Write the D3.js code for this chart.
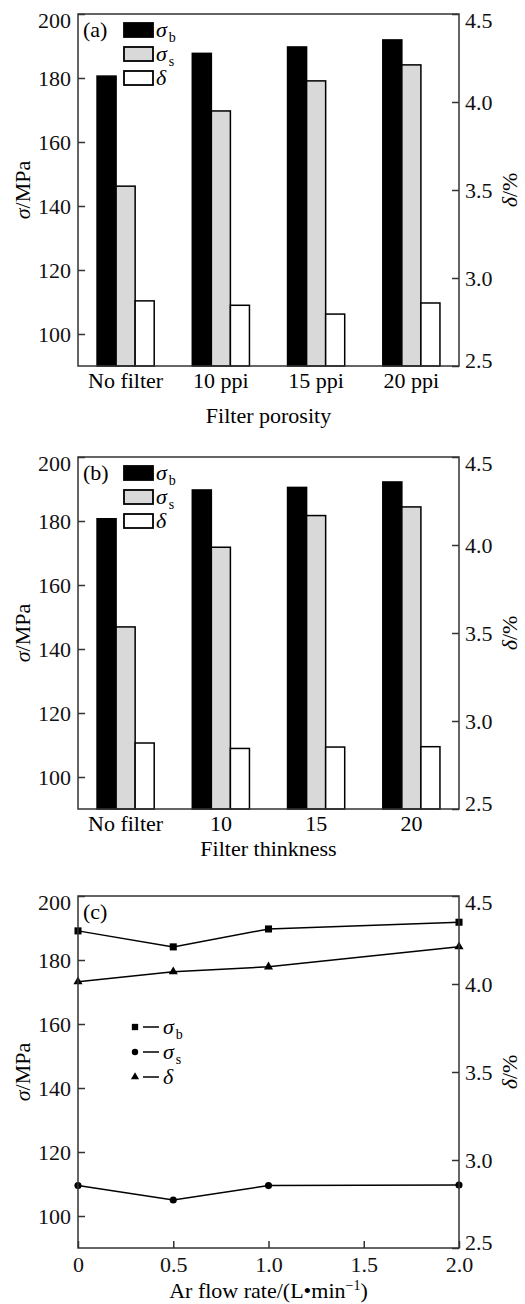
<!DOCTYPE html>
<html>
<head>
<meta charset="utf-8">
<script src="https://cdn.jsdelivr.net/npm/d3@7"></script>
<style>
  body { margin: 0; background: #fff; }
  svg text { font-family: "Liberation Serif", "DejaVu Serif", serif; }
</style>
</head>
<body>
<svg id="svg" width="525" height="1304"></svg>
<script>
// categories and values
const porosity = ["No filter", "10 ppi", "15 ppi", "20 ppi"]
const thickness = ["No filter", "10", "15", "20"]
const series = ["sb", "ss", "d"]

const sigmaB_a = [180.6, 187.7, 189.7, 191.9]
const sigmaS_a = [146.2, 169.7, 179.1, 184.1]
const delta_a = [2.870, 2.845, 2.795, 2.858]

const sigmaB_b = [180.7, 189.7, 190.5, 192.2]
const sigmaS_b = [146.9, 171.8, 181.7, 184.4]
const delta_b = [2.875, 2.844, 2.852, 2.854]

const flowRate = [0, 0.5, 1.0, 2.0]
const sigmaB_c = [189.1, 184.1, 189.7, 191.8]
const sigmaS_c = [109.5, 105.0, 109.5, 109.7]
const delta_c = [4.013, 4.070, 4.098, 4.212]

const leftTicks = [100, 120, 140, 160, 180, 200]
const rightTicks = [2.5, 3.0, 3.5, 4.0, 4.5]
const flowTicks = [0, 0.5, 1.0, 1.5, 2.0]

const x0 = 78, x1 = 459, h = 352
const fs = 22

const svg = d3.select("#svg")

function addLabel(sel, sym, sub) {
    sel.append("tspan").attr("font-style", "italic").text(sym)
    if (sub) sel.append("tspan").attr("font-size", 14).attr("dy", 5).attr("dx", 2).text(sub)
}

function styleAxis(a) {
    a.select(".domain").remove()
    a.attr("font-family", null).attr("font-size", fs)
    a.selectAll("line").attr("stroke", "#333").attr("stroke-width", 1.5)
    a.selectAll("text").attr("fill", "#111")
}

function panel(top, name, xTitle, titleOff) {
    const g = svg.append("g").attr("transform", `translate(0,${top})`)
    const yL = d3.scaleLinear().domain([90, 200]).range([h, 0])
    const yR = d3.scaleLinear().domain([2.5, 4.5]).range([h, 0])

    const ax = g.append("g").attr("transform", `translate(${x0},0)`)
        .call(d3.axisLeft(yL).tickValues(leftTicks).tickSize(-7).tickPadding(7).tickFormat(d3.format("d")))
    const ax2 = g.append("g").attr("transform", `translate(${x1},0)`)
        .call(d3.axisRight(yR).tickValues(rightTicks).tickSize(-7).tickPadding(6).tickFormat(d3.format(".1f")))
    styleAxis(ax)
    styleAxis(ax2)
    // end labels pulled inside the frame, as in the original
    ax.selectAll(".tick").filter(d => d === 200).select("text").attr("y", 6)
    ax2.selectAll(".tick").filter(d => d === 4.5).select("text").attr("y", 6)
    ax2.selectAll(".tick").filter(d => d === 2.5).select("text").attr("y", -6)

    const lt = g.append("text").attr("transform", `translate(30,${h / 2}) rotate(-90)`)
        .attr("text-anchor", "middle").attr("font-size", fs)
    lt.append("tspan").attr("font-style", "italic").text("σ")
    lt.append("tspan").text("/MPa")
    const rt = g.append("text").attr("transform", `translate(517,${h / 2}) rotate(-90)`)
        .attr("text-anchor", "middle").attr("font-size", fs)
    rt.append("tspan").attr("font-style", "italic").text("δ")
    rt.append("tspan").text("/%")

    g.append("text").attr("x", 83).attr("y", 23).attr("font-size", fs).text(name)

    const xt = g.append("text").attr("x", (x0 + x1) / 2).attr("y", h + titleOff)
        .attr("text-anchor", "middle").attr("font-size", fs)
    if (typeof xTitle === "string") xt.text(xTitle)
    else xTitle(xt)

    return { g, yL, yR }
}

function drawFrame(g) {
    g.append("rect").attr("x", x0).attr("y", 0).attr("width", x1 - x0).attr("height", h)
        .attr("fill", "none").attr("stroke", "#333").attr("stroke-width", 1.5)
}

const fills = { sb: "#000", ss: "#d9d9d9", d: "#fff" }
const legendText = { sb: ["σ", "b"], ss: ["σ", "s"], d: ["δ", null] }

function barPanel(top, name, cats, sb, ss, dl, xTitle, titleOff) {
    const { g, yL, yR } = panel(top, name, xTitle, titleOff)
    const xs = d3.scaleBand().domain(cats).range([x0, x1]).paddingInner(0.4).paddingOuter(0.2)
    const xi = d3.scaleBand().domain(series).range([0, xs.bandwidth()])

    const rows = cats.map((c, i) => ({ c, sb: sb[i], ss: ss[i], d: dl[i] }))
    const grp = g.selectAll("g.grp").data(rows).enter().append("g").attr("class", "grp")
        .attr("transform", d => `translate(${xs(d.c)},0)`)
    grp.selectAll("rect").data(d => series.map(k => ({ k, v: d[k] }))).enter().append("rect")
        .attr("x", d => xi(d.k))
        .attr("width", xi.bandwidth())
        .attr("y", d => d.k === "d" ? yR(d.v) : yL(d.v))
        .attr("height", d => h - (d.k === "d" ? yR(d.v) : yL(d.v)))
        .attr("fill", d => fills[d.k])
        .attr("stroke", "#000").attr("stroke-width", 1.5)

    g.selectAll("text.cat").data(cats).enter().append("text").attr("class", "cat")
        .attr("x", d => xs(d) + xs.bandwidth() / 2).attr("y", h + 22)
        .attr("text-anchor", "middle").attr("font-size", fs).text(d => d)

    // legend
    series.forEach((k, i) => {
        g.append("rect").attr("x", 124).attr("y", 9 + i * 24).attr("width", 29).attr("height", 14)
            .attr("fill", fills[k]).attr("stroke", "#000").attr("stroke-width", 1.8)
        const t = g.append("text").attr("x", 156).attr("y", 23 + i * 24).attr("font-size", fs)
        addLabel(t, legendText[k][0], legendText[k][1])
    })
    drawFrame(g)
}

barPanel(14, "(a)", porosity, sigmaB_a, sigmaS_a, delta_a, "Filter porosity", 57)
barPanel(457, "(b)", thickness, sigmaB_b, sigmaS_b, delta_b, "Filter thinkness", 47)

// panel (c)
const pc = panel(896, "(c)", t => {
    t.append("tspan").text("Ar flow rate/(L•min")
    t.append("tspan").attr("font-size", 14).attr("dy", -8).text("−1")
    t.append("tspan").attr("dy", 8).text(")")
}, 50)
const xc = d3.scaleLinear().domain([0, 2]).range([x0, x1])
const axc = pc.g.append("g").attr("transform", `translate(0,${h})`)
    .call(d3.axisBottom(xc).tickValues(flowTicks).tickSize(-7).tickPadding(8)
        .tickFormat(d => d === 0 ? "0" : d3.format(".1f")(d)))
styleAxis(axc)

const lineSeries = [
    { k: "sb", vals: sigmaB_c, y: pc.yL, shape: d3.symbolSquare, size: 50 },
    { k: "ss", vals: sigmaS_c, y: pc.yL, shape: d3.symbolCircle, size: 40 },
    { k: "d", vals: delta_c, y: pc.yR, shape: d3.symbolTriangle, size: 36 }
]
lineSeries.forEach(s => {
    const pts = flowRate.map((f, i) => [xc(f), s.y(s.vals[i])])
    pc.g.append("path").attr("d", d3.line()(pts)).attr("fill", "none")
        .attr("stroke", "#000").attr("stroke-width", 1.5)
    pc.g.selectAll(null).data(pts).enter().append("path")
        .attr("transform", d => `translate(${d[0]},${d[1]})`)
        .attr("d", d3.symbol(s.shape, s.size)).attr("fill", "#000")
})
drawFrame(pc.g)

lineSeries.forEach((s, i) => {
    const yy = 131 + i * 25
    pc.g.append("path").attr("transform", `translate(135,${yy})`)
        .attr("d", d3.symbol(s.shape, s.size * 0.8)).attr("fill", "#000")
    pc.g.append("line").attr("x1", 143).attr("x2", 159).attr("y1", yy).attr("y2", yy)
        .attr("stroke", "#000").attr("stroke-width", 1.5)
    const t = pc.g.append("text").attr("x", 163).attr("y", yy + 7).attr("font-size", fs)
    addLabel(t, legendText[s.k][0], legendText[s.k][1])
})
</script>
</body>
</html>
